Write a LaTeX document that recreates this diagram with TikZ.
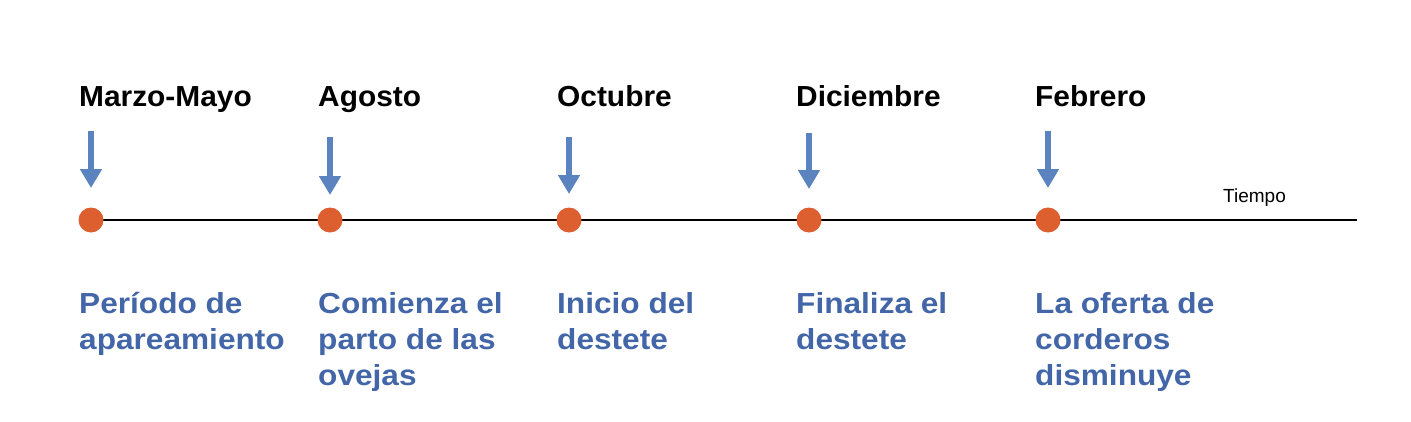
\documentclass[tikz,border=0pt]{standalone}
\usepackage{fontspec}
\setmainfont{Liberation Sans}
\newfontfamily\descff[FakeStretch=1.09]{Liberation Sans}
\newfontfamily\monthff[FakeStretch=1.03]{Liberation Sans}
\usetikzlibrary{arrows.meta}
\definecolor{dotc}{HTML}{DD5E2E}
\definecolor{arrc}{HTML}{5B83BF}
\definecolor{txtc}{HTML}{4266A8}
\begin{document}
\begin{tikzpicture}[x=1pt,y=-1pt,
  dotnode/.style={circle,fill=dotc,minimum size=25pt,inner sep=0pt},
  monthlbl/.style={anchor=base west,inner sep=0pt,font=\monthff\fontsize{29}{36}\selectfont\bfseries},
  desclbl/.style={anchor=base west,inner sep=0pt,text=txtc,font=\descff\fontsize{29}{36}\selectfont\bfseries},
  downarrow/.style={draw=arrc,line width=6pt,-{Triangle[width=21pt,length=19pt]}},
  axisline/.style={draw=black,line width=1.2pt}]
\useasboundingbox (0,0) rectangle (1411,421);
% axis
\coordinate (axend) at (1357,220);
\coordinate (axstart) at (91,220);
\draw[axisline] (axstart) -- (axend);
% dots
\node[dotnode] (d1) at (91,220) {};
\node[dotnode] (d2) at (330,220) {};
\node[dotnode] (d3) at (569,220) {};
\node[dotnode] (d4) at (809,220) {};
\node[dotnode] (d5) at (1048,220) {};
% arrows
\coordinate (t1) at (91,131); \coordinate (h1) at (91,188);
\coordinate (t2) at (330,137); \coordinate (h2) at (330,195);
\coordinate (t3) at (569,137); \coordinate (h3) at (569,194);
\coordinate (t4) at (809,133); \coordinate (h4) at (809,189);
\coordinate (t5) at (1048,131); \coordinate (h5) at (1048,188);
\foreach \i in {1,...,5} \draw[downarrow] (t\i) -- (h\i);
% month labels
\node[monthlbl] (m1) at (79,106) {Marzo-Mayo};
\node[monthlbl] (m2) at (318,106) {Agosto};
\node[monthlbl] (m3) at (557,106) {Octubre};
\node[monthlbl] (m4) at (796,106) {Diciembre};
\node[monthlbl] (m5) at (1035,106) {Febrero};
% time label
\node[anchor=base west,inner sep=0pt,font=\fontsize{19}{22}\selectfont] (tl) at (1223,202) {Tiempo};
% descriptions
\node[desclbl] (e1) at (79,313) {\begin{tabular}[t]{@{}l@{}}Período de\\apareamiento\end{tabular}};
\node[desclbl] (e2) at (318,313) {\begin{tabular}[t]{@{}l@{}}Comienza el\\parto de las\\ovejas\end{tabular}};
\node[desclbl] (e3) at (557,313) {\begin{tabular}[t]{@{}l@{}}Inicio del\\destete\end{tabular}};
\node[desclbl] (e4) at (796,313) {\begin{tabular}[t]{@{}l@{}}Finaliza el\\destete\end{tabular}};
\node[desclbl] (e5) at (1035,313) {\begin{tabular}[t]{@{}l@{}}La oferta de\\corderos\\disminuye\end{tabular}};
\end{tikzpicture}
\end{document}
